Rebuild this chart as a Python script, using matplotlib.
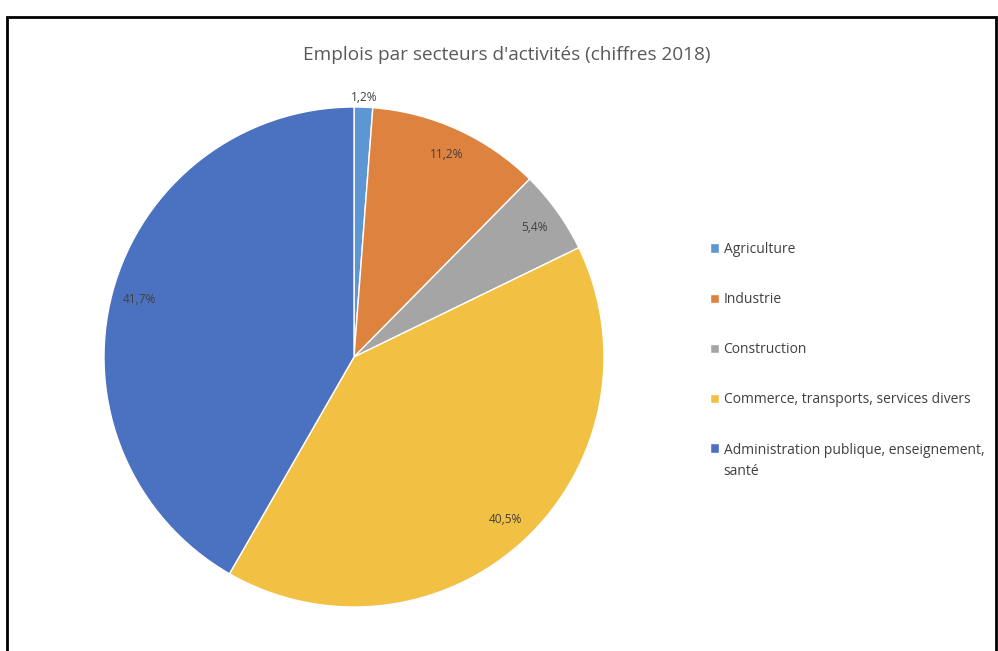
import matplotlib.pyplot as plt
import numpy as np
from matplotlib.patches import Rectangle

# donnees
secteurs = ['Agriculture', 'Industrie', 'Construction',
            'Commerce, transports, services divers',
            'Administration publique, enseignement,\nsanté']
parts = [1.2, 11.2, 5.4, 40.5, 41.7]
couleurs = ['#5E95D3', '#DE823F', '#A5A5A5', '#F2C143', '#4B71C1']

plt.rcParams['font.family'] = ['Open Sans', 'DejaVu Sans']

fig = plt.figure(figsize=(9.98, 6.51), dpi=100)

# cadre noir
fig.patches.append(Rectangle((7/998, -0.05), 989/998, (651-17)/651 + 0.05,
                             transform=fig.transFigure, fill=False,
                             edgecolor='black', linewidth=2))

ax = fig.add_axes([(354-250)/998, (294-250)/651, 500/998, 500/651])
wedges, texts, autotexts = ax.pie(parts, colors=couleurs, startangle=90,
                                  counterclock=False, radius=1,
                                  autopct=lambda p: ('%.1f%%' % p).replace('.', ','),
                                  pctdistance=0.89,
                                  wedgeprops=dict(edgecolor='white', linewidth=1),
                                  textprops=dict(fontsize=8.6, color='#404040'))
# le petit secteur a son etiquette dehors
w = wedges[0]
ang = np.deg2rad((w.theta1 + w.theta2) / 2)
autotexts[0].set_position((1.04*np.cos(ang), 1.04*np.sin(ang)))

ax.set_xlim(-1, 1)
ax.set_ylim(-1, 1)
ax.set_aspect('equal')
ax.axis('off')

fig.text(507/998, 1 - 55/651, "Emplois par secteurs d'activités (chiffres 2018)",
         ha='center', va='center', fontsize=13.7, color='#595959')

leg = fig.legend(wedges, secteurs, loc='upper left',
                 bbox_to_anchor=(710/998, 1 - 242/651), frameon=False,
                 borderpad=0, borderaxespad=0,
                 handlelength=0.68, handleheight=0.68, handletextpad=0.3,
                 labelspacing=2.53, fontsize=10)
for t in leg.get_texts():
    t.set_color('#404040')
    t.set_linespacing(1.57)
# carre de la derniere entree aligne sur la premiere ligne
h = leg.legend_handles[-1]
h.set_y(h.get_y() + 9.6)

fig.savefig('out.png', dpi=100)
